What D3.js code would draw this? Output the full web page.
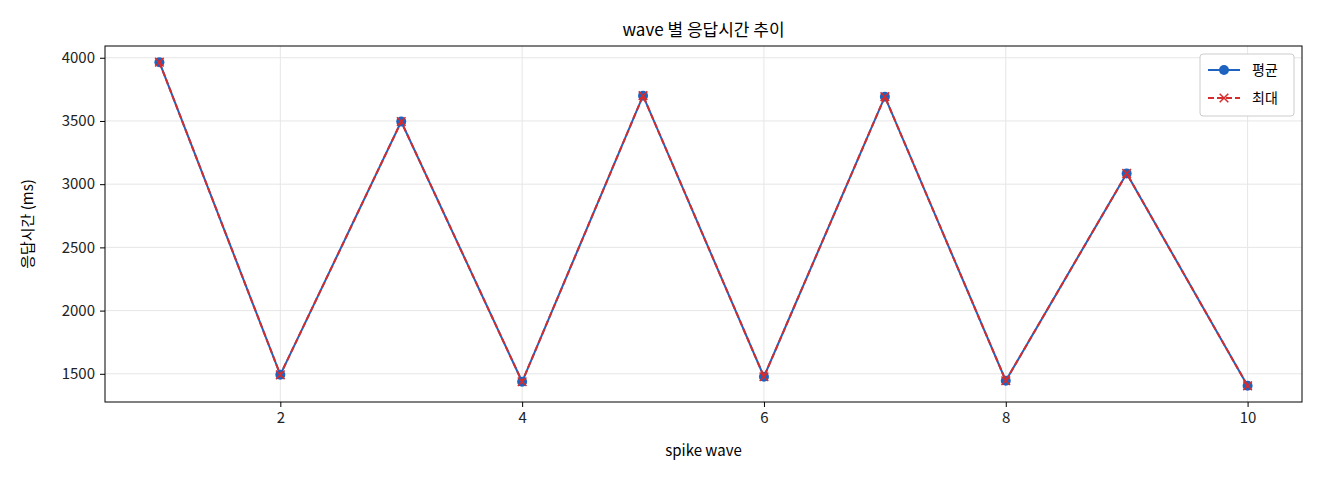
<!DOCTYPE html><html><head><meta charset="utf-8">
<script src="https://cdn.jsdelivr.net/npm/d3@7"></script>
<style>body{margin:0;background:#fff}text{font-family:"Noto Sans CJK KR","Noto Sans",sans-serif}</style></head><body>
<svg id="c" width="1320" height="480"></svg>
<script>
const waves=[1,2,3,4,5,6,7,8,9,10];
const avgVals=[3965,1492,3495,1437,3700,1477,3692,1445,3085,1405];
const maxVals=[3965,1492,3495,1437,3700,1477,3692,1445,3085,1405];
const xTicks=[2,4,6,8,10];
const yTicks=[1500,2000,2500,3000,3500,4000];
const svg=d3.select("#c");
const L=105,R=1302,T=46,B=402;
const x=d3.scaleLinear().domain([0.55,10.45]).range([L,R]);
const y=d3.scaleLinear().domain([1277,4093]).range([B,T]);
const g=svg.append("g");
g.selectAll(".gx").data(xTicks).join("line").attr("x1",d=>x(d)).attr("x2",d=>x(d)).attr("y1",T).attr("y2",B).attr("stroke","#e6e6e6");
g.selectAll(".gy").data(yTicks).join("line").attr("y1",d=>y(d)).attr("y2",d=>y(d)).attr("x1",L).attr("x2",R).attr("stroke","#e6e6e6");
const ax=svg.append("g").attr("transform",`translate(0,${B})`).call(d3.axisBottom(x).tickValues(xTicks).tickFormat(d3.format("d")).tickSize(5).tickPadding(5));
const ay=svg.append("g").attr("transform",`translate(${L},0)`).call(d3.axisLeft(y).tickValues(yTicks).tickFormat(d3.format("d")).tickSize(5).tickPadding(5));
[ax,ay].forEach(a=>{a.select(".domain").remove();a.selectAll("text").attr("font-size",15).attr("fill","#222");});
svg.append("rect").attr("x",L).attr("y",T).attr("width",R-L).attr("height",B-T).attr("fill","none").attr("stroke","#000");
const line=d3.line().x((d,i)=>x(waves[i])).y(d=>y(d));
svg.append("path").datum(avgVals).attr("d",line).attr("fill","none").attr("stroke","#1f63c0").attr("stroke-width",2);
svg.selectAll(".pa").data(avgVals).join("circle").attr("cx",(d,i)=>x(waves[i])).attr("cy",d=>y(d)).attr("r",5).attr("fill","#1f63c0");
svg.append("path").datum(maxVals).attr("d",line).attr("fill","none").attr("stroke","#d62c2c").attr("stroke-width",2).attr("stroke-dasharray","6,3");
const cross=d3.symbol().type(d3.symbolX).size(50);
svg.selectAll(".pm").data(maxVals).join("path").attr("d",cross).attr("transform",(d,i)=>`translate(${x(waves[i])},${y(d)})`).attr("stroke","#d62c2c").attr("stroke-width",1.5).attr("fill","none");
svg.append("text").attr("x",(L+R)/2).attr("y",36).attr("text-anchor","middle").attr("font-size",17).text("wave 별 응답시간 추이");
svg.append("text").attr("x",(L+R)/2).attr("y",456).attr("text-anchor","middle").attr("font-size",15).text("spike wave");
svg.append("text").attr("transform",`translate(33,${(T+B)/2}) rotate(-90)`).attr("text-anchor","middle").attr("font-size",15).text("응답시간 (ms)");
const lg=svg.append("g").attr("transform","translate(1200,54)");
lg.append("rect").attr("width",94).attr("height",62).attr("rx",3).attr("fill","#fff").attr("stroke","#ccc");
lg.append("line").attr("x1",8).attr("x2",40).attr("y1",16).attr("y2",16).attr("stroke","#1f63c0").attr("stroke-width",2);
lg.append("circle").attr("cx",24).attr("cy",16).attr("r",5).attr("fill","#1f63c0");
lg.append("text").attr("x",52).attr("y",21).attr("font-size",14).text("평균");
lg.append("line").attr("x1",8).attr("x2",40).attr("y1",44).attr("y2",44).attr("stroke","#d62c2c").attr("stroke-width",2).attr("stroke-dasharray","6,3");
lg.append("path").attr("d",cross).attr("transform","translate(24,44)").attr("stroke","#d62c2c").attr("stroke-width",1.5);
lg.append("text").attr("x",52).attr("y",49).attr("font-size",14).text("최대");
</script></body></html>
